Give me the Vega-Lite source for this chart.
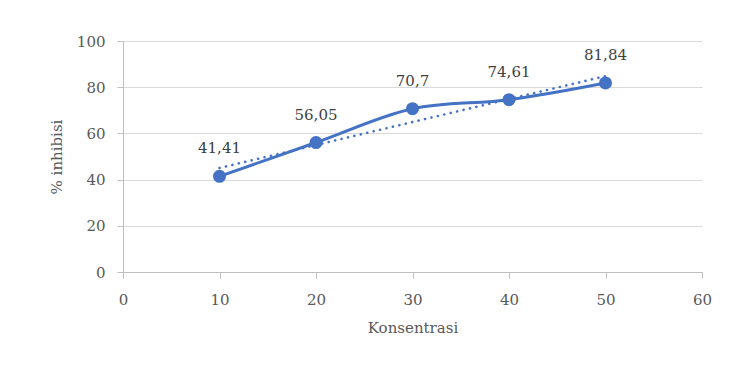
{
  "$schema": "https://vega.github.io/schema/vega-lite/v6.json",
  "width": 579,
  "height": 231,
  "autosize": {"type": "none"},
  "padding": {"left": 123, "top": 41, "right": 32, "bottom": 97},
  "background": "white",
  "data": {"values": [
    {"Konsentrasi": 10, "inhibisi": 41.41},
    {"Konsentrasi": 20, "inhibisi": 56.05},
    {"Konsentrasi": 30, "inhibisi": 70.7},
    {"Konsentrasi": 40, "inhibisi": 74.61},
    {"Konsentrasi": 50, "inhibisi": 81.84}
  ]},
  "encoding": {
    "x": {"field": "Konsentrasi", "type": "quantitative", "scale": {"domain": [0, 60], "nice": false},
      "axis": {"title": "Konsentrasi", "values": [0, 10, 20, 30, 40, 50, 60], "grid": false, "format": "d"}},
    "y": {"field": "inhibisi", "type": "quantitative", "scale": {"domain": [0, 100], "nice": false},
      "axis": {"title": "% inhibisi", "values": [0, 20, 40, 60, 80, 100], "grid": true, "format": "d"}}
  },
  "layer": [
    {
      "transform": [{"regression": "inhibisi", "on": "Konsentrasi", "extent": [10, 50]}],
      "mark": {"type": "line", "color": "#4472C4", "strokeWidth": 2.6, "strokeDash": [0.1, 6.5], "strokeCap": "round"}
    },
    {
      "mark": {"type": "line", "color": "#4472C4", "strokeWidth": 3, "interpolate": "catmull-rom"}
    },
    {
      "mark": {"type": "point", "filled": true, "opacity": 1, "color": "#4472C4", "size": 170}
    },
    {
      "mark": {"type": "text", "baseline": "bottom", "dy": -20, "font": "DejaVu Serif", "fontSize": 15, "color": "#404040"},
      "encoding": {"text": {"field": "inhibisi", "type": "quantitative", "format": "~r"}}
    }
  ],
  "config": {
    "locale": {"number": {"decimal": ",", "thousands": ".", "grouping": [3], "currency": ["", ""]}},
    "view": {"stroke": null},
    "axis": {
      "labelFont": "DejaVu Serif", "labelFontSize": 15, "labelColor": "#595959", "labelFlush": false,
      "titleFont": "DejaVu Serif", "titleFontSize": 15, "titleColor": "#595959", "titleFontWeight": "normal",
      "domainColor": "#bfbfbf", "domainWidth": 1, "tickColor": "#bfbfbf", "tickSize": 6,
      "gridColor": "#d9d9d9", "gridWidth": 1
    },
    "axisX": {"labelPadding": 14, "titleY": 48},
    "axisY": {"labelPadding": 12, "titleX": -59}
  }
}
